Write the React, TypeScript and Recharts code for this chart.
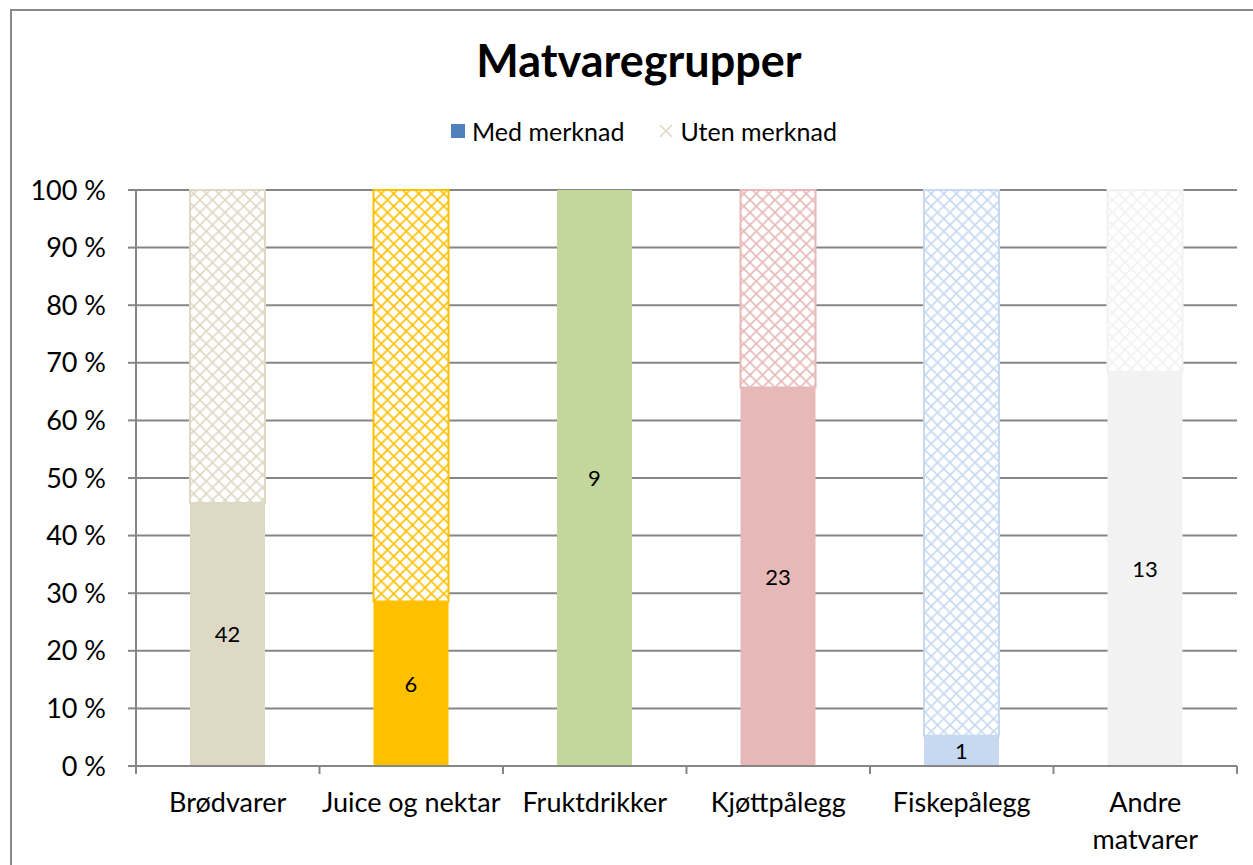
import { BarChart, Bar, XAxis, YAxis, CartesianGrid, LabelList, Cell } from 'recharts'

const categories = ['Brødvarer', 'Juice og nektar', 'Fruktdrikker', 'Kjøttpålegg', 'Fiskepålegg', 'Andre matvarer']
const xTickLines = [['Brødvarer'], ['Juice og nektar'], ['Fruktdrikker'], ['Kjøttpålegg'], ['Fiskepålegg'], ['Andre', 'matvarer']]
const medMerknad = [42, 6, 9, 23, 1, 13]
const utenMerknad = [50, 15, 0, 12, 18, 6]
const barColors = ['#DDD9C4', '#FFC000', '#C3D69B', '#E6B9B8', '#C6D9F1', '#F2F2F2']
const yTicks = [0, 0.1, 0.2, 0.3, 0.4, 0.5, 0.6, 0.7, 0.8, 0.9, 1]

const data = categories.map((name, i) => ({
  name,
  med: medMerknad[i],
  uten: utenMerknad[i],
}))

const FONT = 'Lato, "Open Sans", sans-serif'
const AXIS_GRAY = '#868686'

// eslint-disable-next-line @typescript-eslint/no-explicit-any
const CategoryTick = (props: any) => {
  const { x, y, index, visibleTicksCount, width } = props
  const band = (width || 1101) / (visibleTicksCount || 6)
  const lines = xTickLines[index] || [categories[index]]
  return (
    <g>
      <line x1={x - band / 2} y1={y - 8} x2={x - band / 2} y2={y} stroke={AXIS_GRAY} strokeWidth={2} />
      {index === visibleTicksCount - 1 && (
        <line x1={x + band / 2} y1={y - 8} x2={x + band / 2} y2={y} stroke={AXIS_GRAY} strokeWidth={2} />
      )}
      {lines.map((l: string, k: number) => (
        <text key={k} x={x} y={y + 38 + k * 37} textAnchor="middle" fontSize={27} fill="#000" fontFamily={FONT}>
          {l}
        </text>
      ))}
    </g>
  )
}

const LegendBlock = () => (
  <div
    style={{
      position: 'absolute', left: 5, top: 116, width: 1278, display: 'flex', justifyContent: 'center',
      alignItems: 'center', fontFamily: FONT, fontSize: 25, color: '#000', lineHeight: '30px',
    }}
  >
    <span style={{ display: 'inline-block', width: 14, height: 14, background: '#4F81BD', marginRight: 7 }} />
    <span style={{ marginRight: 34 }}>Med merknad</span>
    <svg width={16} height={16} style={{ marginRight: 6 }}>
      <path d="M2,2 L14,14 M14,2 L2,14" stroke="#DDD9C4" strokeWidth={1.5} />
    </svg>
    <span>Uten merknad</span>
  </div>
)

export default function App() {
  return (
    <div style={{ position: 'relative', width: 1253, height: 865, background: '#fff', overflow: 'hidden', fontFamily: FONT }}>
      <style>{`body { margin: 0; }`}</style>
      <div style={{ position: 'absolute', left: 10, top: 9, width: 1250, height: 900, border: '2px solid #898989' }} />
      <div style={{ position: 'absolute', left: 0, top: 33, width: 1278, textAlign: 'center', fontSize: 45, fontWeight: 700, color: '#000' }}>
        Matvaregrupper
      </div>
      <LegendBlock />
      <BarChart
        width={1253}
        height={865}
        data={data}
        stackOffset="expand"
        barSize={75}
        margin={{ top: 190, right: 16, bottom: 0, left: 0 }}
        style={{ position: 'absolute', left: 0, top: 0 }}
      >
        <defs>
          {barColors.map((c, i) => (
            <pattern key={i} id={`hatch-${i}`} patternUnits="userSpaceOnUse" width={12.5} height={12.5}>
              <rect width={12.5} height={12.5} fill="#fff" />
              <path d="M0,0 L12.5,12.5 M12.5,0 L0,12.5" stroke={c} strokeWidth={1.6} />
            </pattern>
          ))}
        </defs>
        <CartesianGrid vertical={false} stroke={AXIS_GRAY} strokeWidth={2} />
        <XAxis
          dataKey="name"
          tickLine={false}
          tickSize={8}
          tickMargin={0}
          axisLine={{ stroke: AXIS_GRAY, strokeWidth: 2 }}
          tick={<CategoryTick />}
          interval={0}
          height={99}
        />
        <YAxis
          width={136}
          domain={[0, 1]}
          ticks={yTicks}
          tickFormatter={(v: number) => `${Math.round(v * 100)} %`}
          tickSize={8}
          tickMargin={22}
          axisLine={{ stroke: AXIS_GRAY, strokeWidth: 2 }}
          tickLine={{ stroke: AXIS_GRAY, strokeWidth: 2 }}
          tick={{ fill: '#000', fontSize: 27, fontFamily: FONT }}
        />
        <Bar dataKey="med" stackId="a" name="Med merknad" isAnimationActive={false}>
          {data.map((_, i) => (
            <Cell key={i} fill={barColors[i]} />
          ))}
          <LabelList dataKey="med" position="center" fill="#000" fontSize={22} fontFamily={FONT} />
        </Bar>
        <Bar dataKey="uten" stackId="a" name="Uten merknad" isAnimationActive={false}>
          {data.map((_, i) => (
            <Cell key={i} fill={`url(#hatch-${i})`} stroke={barColors[i]} strokeWidth={2} />
          ))}
        </Bar>
      </BarChart>
    </div>
  )
}
